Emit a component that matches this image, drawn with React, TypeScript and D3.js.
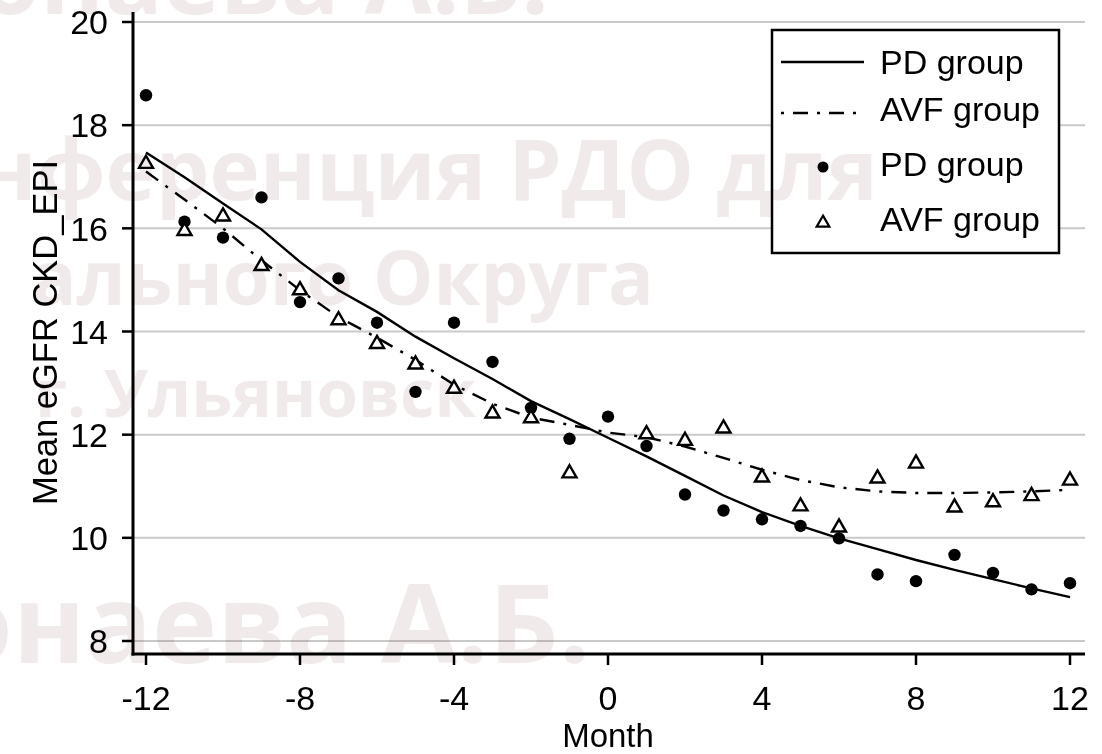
import React from "react";
import * as d3 from "d3";

// months on the x axis
const months = [-12, -11, -10, -9, -8, -7, -6, -5, -4, -3, -2, -1, 0, 1, 2, 3, 4, 5, 6, 7, 8, 9, 10, 11, 12];

// observed means (dots / triangles)
const pdMeans = [18.58, 16.13, 15.82, 16.6, 14.57, 15.03, 14.17, 12.83, 14.17, 13.41, 12.52, 11.92, 12.35, 11.78, 10.84, 10.53, 10.36, 10.23, 9.99, 9.29, 9.16, 9.67, 9.32, 9.0, 9.12];
const avfMeans = [17.25, 15.95, 16.23, 15.27, 14.8, 14.22, 13.76, 13.36, 12.89, 12.41, 12.32, 11.25, null, 12.01, 11.88, 12.12, 11.17, 10.61, 10.2, 11.15, 11.44, 10.59, 10.69, 10.81, 11.11];

// smoothed curves
const pdSmooth = [17.47, 16.99, 16.48, 15.98, 15.35, 14.8, 14.38, 13.9, 13.48, 13.08, 12.65, 12.3, 11.94, 11.58, 11.2, 10.82, 10.5, 10.23, 9.99, 9.78, 9.57, 9.38, 9.2, 9.02, 8.85];
const avfSmooth = [17.1, 16.56, 16.0, 15.38, 14.8, 14.28, 13.88, 13.45, 12.97, 12.6, 12.33, 12.19, 12.04, 11.95, 11.77, 11.55, 11.32, 11.12, 10.98, 10.9, 10.87, 10.87, 10.88, 10.9, 10.93];

const xTicks = [-12, -8, -4, 0, 4, 8, 12];
const yTicks = [8, 10, 12, 14, 16, 18, 20];
const legendLabels = ["PD group", "AVF group", "PD group", "AVF group"];

// faint watermark across the picture
const watermark = ["онаева А.Б.", "онференция РДО для", "ального Округа", "г. Ульяновск", "онаева А.Б."];

const W = 1102;
const H = 754;
const font = "'Liberation Sans', Arial, Helvetica, sans-serif";

const App = () => {
  const x = d3.scaleLinear().domain([-12, 12]).range([146, 1070]);
  const y = d3.scaleLinear().domain([8, 20]).range([641, 22]);
  const axisX = 133;
  const axisY = 654;
  const plotRight = 1085;

  const line = d3
    .line<number>()
    .x((d, i) => x(months[i]))
    .y((d) => y(d));

  const tri = d3.symbol().type(d3.symbolTriangle).size(85)();
  const triSmall = d3.symbol().type(d3.symbolTriangle).size(70)();

  // watermark placement (right end, baseline, size)
  const wmPos = [
    { end: 549, base: 14, size: 97 },
    { end: 878, base: 200, size: 85 },
    { end: 654, base: 305, size: 76 },
    { end: 476, base: 417, size: 67 },
    { end: 590, base: 663, size: 110 },
  ];

  const legendMarks = [62, 113, 167, 223];
  const legendBase = [74, 121, 176, 231];

  return (
    <svg
      width={W}
      height={H}
      style={{ position: "absolute", left: 0, top: 0, background: "#fff" }}
      fontFamily={font}
    >
      <rect x={0} y={0} width={W} height={H} fill="#fff" />

      {/* gridlines */}
      {yTicks.map((t) => (
        <line key={"g" + t} x1={axisX} x2={plotRight} y1={y(t)} y2={y(t)} stroke="#c9c9c9" strokeWidth={2} />
      ))}

      {/* smoothed curves */}
      <path d={line(pdSmooth) || ""} fill="none" stroke="#000" strokeWidth={2.4} />
      <path d={line(avfSmooth) || ""} fill="none" stroke="#000" strokeWidth={2.4} strokeDasharray="15,9,3,9" />

      {/* PD dots */}
      {pdMeans.map((v, i) => (
        <circle key={"p" + i} cx={x(months[i])} cy={y(v)} r={6.2} fill="#000" />
      ))}
      {/* AVF triangles */}
      {avfMeans.map((v, i) =>
        v == null ? null : (
          <path
            key={"a" + i}
            d={tri || ""}
            transform={`translate(${x(months[i])},${y(v)})`}
            fill="#fff"
            stroke="#000"
            strokeWidth={2.4}
          />
        )
      )}

      {/* axes */}
      <line x1={axisX} x2={axisX} y1={12} y2={axisY + 1.5} stroke="#000" strokeWidth={3} />
      <line x1={axisX - 1.5} x2={plotRight} y1={axisY} y2={axisY} stroke="#000" strokeWidth={3} />
      {yTicks.map((t) => (
        <g key={"yt" + t}>
          <line x1={axisX - 11} x2={axisX} y1={y(t)} y2={y(t)} stroke="#000" strokeWidth={2.5} />
          <text x={axisX - 25} y={y(t)} dy="0.36em" textAnchor="end" fontSize={34} fill="#000">
            {t}
          </text>
        </g>
      ))}
      {xTicks.map((t) => (
        <g key={"xt" + t}>
          <line x1={x(t)} x2={x(t)} y1={axisY} y2={axisY + 11} stroke="#000" strokeWidth={2.5} />
          <text x={x(t)} y={710} textAnchor="middle" fontSize={34} fill="#000">
            {t}
          </text>
        </g>
      ))}
      <text x={x(0)} y={747} textAnchor="middle" fontSize={33} fill="#000">
        Month
      </text>
      <text
        transform={`translate(57,${(157 + 508) / 2}) rotate(-90)`}
        textAnchor="middle"
        fontSize={34.5}
        fill="#000"
      >
        Mean eGFR CKD_EPI
      </text>

      {/* legend */}
      <rect x={772} y={30} width={287} height={223} fill="#fff" stroke="#000" strokeWidth={2.5} />
      <line x1={781} x2={864} y1={legendMarks[0]} y2={legendMarks[0]} stroke="#000" strokeWidth={2.4} />
      <line x1={781} x2={864} y1={legendMarks[1]} y2={legendMarks[1]} stroke="#000" strokeWidth={2.4} strokeDasharray="3,9,15,9" />
      <circle cx={823} cy={legendMarks[2]} r={5.5} fill="#000" />
      <path d={triSmall || ""} transform={`translate(823,${legendMarks[3]})`} fill="#fff" stroke="#000" strokeWidth={2.2} />
      {legendLabels.map((l, i) => (
        <text key={"l" + i} x={880} y={legendBase[i]} fontSize={34} fill="#000">
          {l}
        </text>
      ))}

      {/* watermark */}
      <g
        style={{ mixBlendMode: "multiply" }}
        fontFamily="'Open Sans', 'Noto Sans', sans-serif"
        fontWeight={700}
        fill="#f1eaeb"
      >
        {watermark.map((w, i) => (
          <text key={"w" + i} x={wmPos[i].end} y={wmPos[i].base} fontSize={wmPos[i].size} textAnchor="end">
            {w}
          </text>
        ))}
      </g>
    </svg>
  );
};

export default App;
